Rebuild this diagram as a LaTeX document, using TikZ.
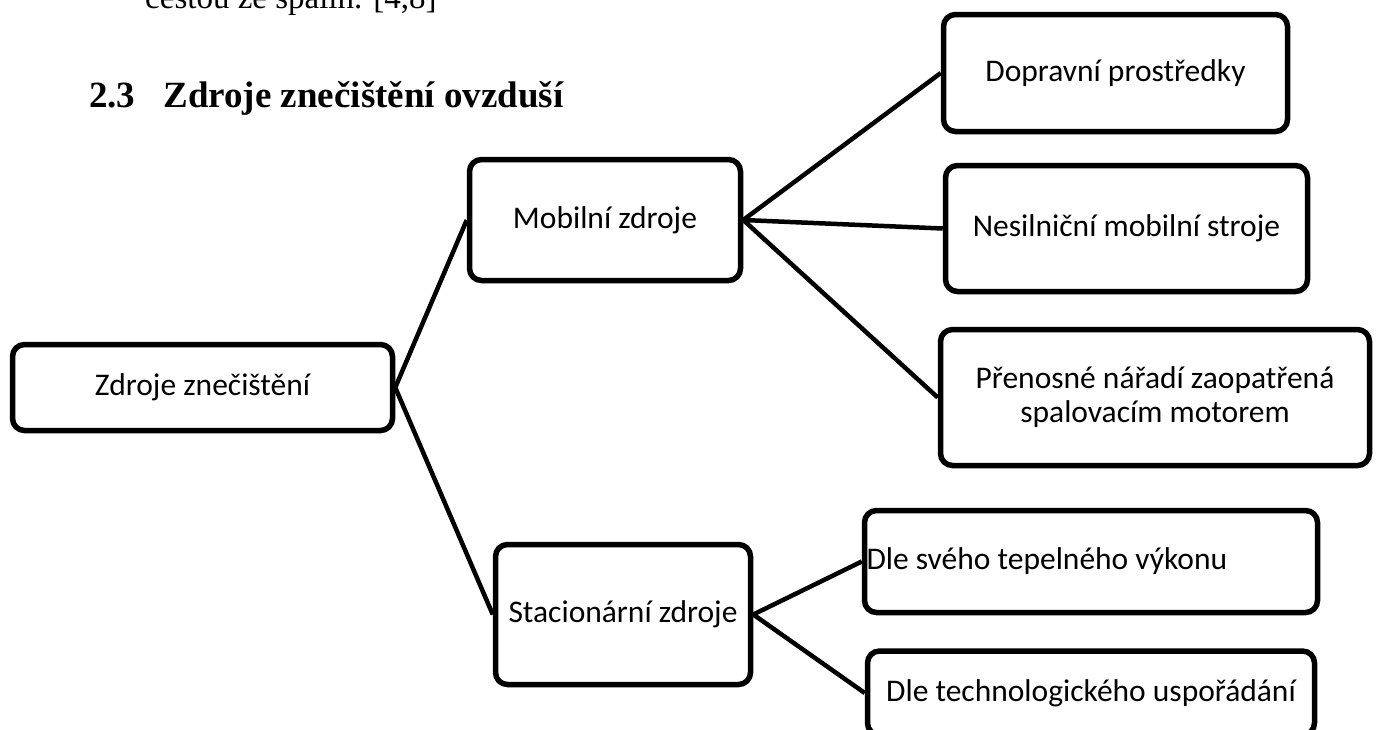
\documentclass[tikz,border=0pt]{standalone}
\usepackage{fontspec}
\setmainfont{Carlito}
\newfontfamily\patkove{Liberation Serif}
\usepackage{xcolor}
\definecolor{cerna}{RGB}{0,0,0}
\definecolor{bila}{RGB}{255,255,255}

\tikzset{
  uzel/.style={draw=cerna, line width=5.5pt, rounded corners=12pt, fill=bila,
    align=center, inner sep=0pt, font=\fontsize{31.5}{34}\selectfont},
  spoj/.style={draw=cerna, line width=4.5pt}
}

\begin{document}
\begin{tikzpicture}[x=1pt, y=-1pt]
    \useasboundingbox (0,0) rectangle (1376,729);
    \clip (0,0) rectangle (1376,729);
    % text nad diagramem
    \node[anchor=base west, inner sep=0pt, font=\patkove\fontsize{33}{36}\selectfont] (uvod) at (145,8) {cestou ze spalin. [4,8]};
    \node[anchor=base west, inner sep=0pt, font=\patkove\bfseries\fontsize{37}{40}\selectfont] (nadpis) at (89,107) {2.3\hspace{28pt}Zdroje znečištění ovzduší};
    % uzly
    \node[uzel, minimum width=380pt, minimum height=86pt] (zdroje) at (202.5,387.5) {Zdroje znečištění};
    \node[uzel, minimum width=271pt, minimum height=121pt] (mobilni) at (605,220) {Mobilní zdroje};
    \node[uzel, minimum width=255pt, minimum height=140pt] (stac) at (623,614.5) {Stacionární zdroje};
    \node[uzel, minimum width=344pt, minimum height=117pt] (doprava) at (1115.5,73) {Dopravní prostředky};
    \node[uzel, minimum width=362pt, minimum height=126pt] (stroje) at (1126.5,228.5) {Nesilniční mobilní stroje};
    \node[uzel, minimum width=429pt, minimum height=136pt] (naradi) at (1155,397.5) {Přenosné nářadí zaopatřená\\spalovacím motorem};
    \node[uzel, text width=449pt, inner xsep=2pt, align=flush left, minimum height=102pt] (vykon) at (1091,561.5) {Dle svého tepelného výkonu};
    \node[uzel, minimum width=447pt, minimum height=84pt] (technol) at (1091,693) {Dle technologického uspořádání};
    % spojnice
    \draw[spoj] (zdroje.east) -- (mobilni.west);
    \draw[spoj] (zdroje.east) -- (stac.west);
    \draw[spoj] (mobilni.east) -- (doprava.west);
    \draw[spoj] (mobilni.east) -- (stroje.west);
    \draw[spoj] (mobilni.east) -- (naradi.west);
    \draw[spoj] (stac.east) -- (vykon.west);
    \draw[spoj] (stac.east) -- (technol.west);
\end{tikzpicture}
\end{document}
